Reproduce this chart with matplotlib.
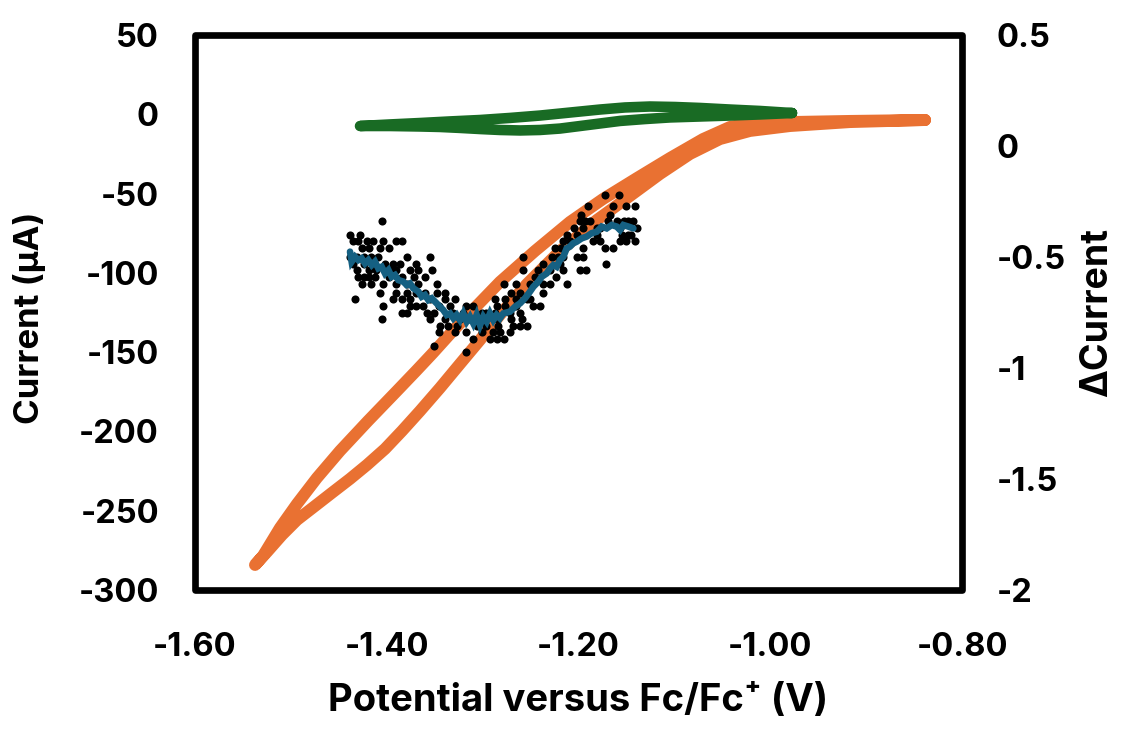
import matplotlib
matplotlib.use("Agg")
import matplotlib.pyplot as plt
from matplotlib.patches import Rectangle

plt.rcParams['font.family'] = ['Inter', 'DejaVu Sans']
plt.rcParams['font.weight'] = 'bold'

# ---------------- data ----------------
# Orange CV (left axis, µA): sweep from -0.84 V to -1.54 V (fwd) and back (rev)
orange_fwd_v = [-0.8386, -0.9168, -0.9794, -1.0211, -1.0524, -1.0837, -1.1150, -1.1463, -1.1807,
                -1.2193, -1.2537, -1.2819, -1.3027, -1.3236, -1.3445, -1.3653, -1.3841, -1.4018,
                -1.4206, -1.4383, -1.4561, -1.4748, -1.4936, -1.5093, -1.5249, -1.5374]
orange_fwd_i = [-3.6, -4.9, -7.4, -10.5, -15.6, -25.0, -37.6, -51.5, -66.6,
                -86.2, -107.0, -126.5, -142.3, -157.4, -172.6, -187.1, -199.7, -211.0,
                -221.1, -229.9, -238.2, -247.0, -255.8, -265.3, -276.0, -284.2]
orange_rev_v = [-1.5374, -1.5291, -1.5113, -1.4936, -1.4728, -1.4488, -1.4196, -1.3904, -1.3695,
                -1.3518, -1.3330, -1.3163, -1.2819, -1.2454, -1.2089, -1.1744, -1.1390, -1.1046,
                -1.0701, -1.0420, -1.0211, -0.9794, -0.9168, -0.8386]
orange_rev_i = [-284.2, -278.5, -260.8, -245.7, -229.3, -212.3, -193.4, -175.1, -161.9,
                -150.5, -137.9, -127.2, -105.7, -86.2, -67.9, -53.4, -40.2, -27.6,
                -15.6, -8.0, -5.5, -4.9, -4.2, -3.6]

# Green CV (left axis, µA)
green_fwd_v = [-0.9773, -1.0107, -1.0420, -1.0733, -1.1046, -1.1306, -1.1567, -1.1776, -1.1984,
               -1.2193, -1.2402, -1.2610, -1.2819, -1.3027, -1.3236, -1.3445, -1.3653, -1.3966,
               -1.4279]
green_fwd_i = [0.8, -0.1, -0.8, -1.4, -2.0, -3.0, -4.2, -5.8, -7.4,
               -9.0, -9.9, -10.2, -9.9, -9.3, -8.6, -8.0, -7.7, -7.4, -7.4]
green_rev_v = [-1.4279, -1.3966, -1.3653, -1.3340, -1.3027, -1.2714, -1.2402, -1.2089, -1.1776,
               -1.1515, -1.1254, -1.0993, -1.0733, -1.0420, -1.0107, -0.9773]
green_rev_i = [-7.4, -6.4, -5.5, -4.5, -3.6, -2.3, -0.8, 1.1, 3.0,
               4.3, 4.9, 4.6, 4.0, 3.0, 2.1, 0.8]

# ΔCurrent scatter (right axis): potentials grouped by ΔCurrent level
scatter_rows = {
    -0.22: [-1.172, -1.158],
    -0.27: [-1.190, -1.164, -1.150, -1.141],
    -0.31: [-1.197, -1.167],
    -0.34: [-1.405, -1.198, -1.193, -1.188, -1.169, -1.160, -1.153, -1.148, -1.143],
    -0.37: [-1.205, -1.195, -1.181, -1.178, -1.157, -1.139],
    -0.40: [-1.438, -1.428, -1.212, -1.202, -1.181, -1.155, -1.148, -1.145],
    -0.43: [-1.435, -1.430, -1.421, -1.414, -1.404, -1.390, -1.384, -1.216, -1.209, -1.185,
            -1.178, -1.157, -1.150, -1.141],
    -0.46: [-1.426, -1.418, -1.407, -1.398, -1.225, -1.218, -1.195, -1.172, -1.164],
    -0.50: [-1.438, -1.431, -1.424, -1.416, -1.409, -1.379, -1.355, -1.258, -1.228, -1.221,
            -1.216, -1.202, -1.195],
    -0.53: [-1.435, -1.424, -1.414, -1.402, -1.393, -1.386, -1.369, -1.237, -1.219, -1.171],
    -0.56: [-1.431, -1.418, -1.411, -1.397, -1.390, -1.376, -1.367, -1.353, -1.258, -1.242,
            -1.230, -1.216, -1.198, -1.192],
    -0.59: [-1.430, -1.424, -1.419, -1.412, -1.398, -1.384, -1.372, -1.360, -1.245, -1.223],
    -0.62: [-1.426, -1.416, -1.404, -1.390, -1.379, -1.367, -1.348, -1.278, -1.265, -1.251,
            -1.237, -1.230, -1.212],
    -0.66: [-1.407, -1.390, -1.379, -1.369, -1.360, -1.348, -1.339, -1.270, -1.261, -1.237],
    -0.69: [-1.433, -1.393, -1.384, -1.376, -1.355, -1.339, -1.329, -1.287, -1.277, -1.265,
            -1.254, -1.251],
    -0.72: [-1.404, -1.376, -1.369, -1.362, -1.346, -1.334, -1.317, -1.310, -1.285, -1.277,
            -1.265, -1.247, -1.240],
    -0.75: [-1.384, -1.379, -1.358, -1.351, -1.331, -1.320, -1.301, -1.296, -1.287, -1.271,
            -1.261],
    -0.78: [-1.405, -1.355, -1.339, -1.324, -1.313, -1.299, -1.285, -1.270, -1.259],
    -0.81: [-1.344, -1.336, -1.327, -1.306, -1.296, -1.284, -1.268, -1.261, -1.254],
    -0.84: [-1.346, -1.329, -1.317, -1.301, -1.289, -1.282, -1.271],
    -0.87: [-1.310, -1.292, -1.285, -1.278],
    -0.90: [-1.351],
    -0.93: [-1.317],
}

# Smoothed ΔCurrent (right axis)
smooth_v = [-1.4383, -1.4366, -1.4331, -1.4296, -1.4262, -1.4227, -1.4192, -1.4157, -1.4123,
            -1.4088, -1.4053, -1.4018, -1.3983, -1.3949, -1.3914, -1.3879, -1.3827, -1.3792,
            -1.3757, -1.3723, -1.3670, -1.3636, -1.3601, -1.3566, -1.3531, -1.3497, -1.3445,
            -1.3410, -1.3375, -1.3340, -1.3305, -1.3271, -1.3236, -1.3201, -1.3166, -1.3132,
            -1.3097, -1.3062, -1.3027, -1.2993, -1.2958, -1.2923, -1.2888, -1.2854, -1.2819,
            -1.2784, -1.2715, -1.2662, -1.2610, -1.2558, -1.2506, -1.2471, -1.2419, -1.2384,
            -1.2332, -1.2297, -1.2262, -1.2228, -1.2193, -1.2158, -1.2123, -1.2089, -1.2054,
            -1.2019, -1.1967, -1.1915, -1.1863, -1.1810, -1.1758, -1.1706, -1.1654, -1.1602,
            -1.1567, -1.1532, -1.1480, -1.1428]
smooth_d = [-0.476, -0.521, -0.499, -0.514, -0.506, -0.529, -0.514, -0.536, -0.521,
            -0.551, -0.544, -0.574, -0.559, -0.589, -0.581, -0.604, -0.611, -0.626,
            -0.619, -0.641, -0.656, -0.679, -0.671, -0.694, -0.686, -0.701, -0.724,
            -0.739, -0.761, -0.754, -0.776, -0.761, -0.784, -0.754, -0.791, -0.769,
            -0.799, -0.761, -0.806, -0.769, -0.791, -0.754, -0.784, -0.761, -0.776,
            -0.754, -0.746, -0.724, -0.709, -0.686, -0.656, -0.634, -0.611, -0.589,
            -0.574, -0.551, -0.536, -0.544, -0.513, -0.498, -0.461, -0.453, -0.438,
            -0.431, -0.416, -0.408, -0.393, -0.386, -0.363, -0.371, -0.356, -0.363,
            -0.378, -0.356, -0.363, -0.371]

x_ticks = [-1.60, -1.40, -1.20, -1.00, -0.80]
y_left_ticks = [50, 0, -50, -100, -150, -200, -250, -300]
y_right_ticks = [0.5, 0, -0.5, -1, -1.5, -2]
y_right_labels = ['0.5', '0', '-0.5', '-1', '-1.5', '-2']

# colours
C_ORANGE = '#E97132'
C_GREEN = '#196B24'
C_BLUE = '#156082'

# ---------------- figure ----------------
fig = plt.figure(figsize=(11.27, 7.40), dpi=100)
ax = fig.add_axes([195 / 1127, 1 - 590 / 740, (962 - 195) / 1127, (590 - 35) / 740])

ax.plot(orange_fwd_v + orange_rev_v, orange_fwd_i + orange_rev_i, color=C_ORANGE, lw=8.6,
        solid_capstyle='round', solid_joinstyle='round', zorder=2)
ax.plot(green_fwd_v + green_rev_v, green_fwd_i + green_rev_i, color=C_GREEN, lw=7.6,
        solid_capstyle='round', solid_joinstyle='round', zorder=3)

ax.set_xlim(-1.6, -0.8)
ax.set_ylim(-300, 50)
ax.set_xticks(x_ticks)
ax.set_xticklabels([f'{t:.2f}' for t in x_ticks])
ax.set_yticks(y_left_ticks)
ax.set_yticklabels([str(t) for t in y_left_ticks])

ax2 = ax.twinx()
sv, sd = [], []
for lvl, vs in scatter_rows.items():
    for v in vs:
        sv.append(v)
        sd.append(lvl)
ax2.scatter(sv, sd, s=34, color='black', linewidths=0, zorder=2)
ax2.plot(smooth_v, smooth_d, color=C_BLUE, lw=4.8, solid_joinstyle='miter',
         solid_capstyle='round', zorder=3)
ax2.set_ylim(-2, 0.5)
ax2.set_yticks(y_right_ticks)
ax2.set_yticklabels(y_right_labels)

for a in (ax, ax2):
    for s in a.spines.values():
        s.set_visible(False)
    a.tick_params(length=0, labelsize=23.5)
ax.tick_params(axis='y', pad=26)
ax.tick_params(axis='x', pad=30)
ax2.tick_params(axis='y', pad=25)

ax2.add_patch(Rectangle((0, 0), 1, 1, transform=ax2.transAxes, fill=False, lw=4.8,
                        edgecolor='black', joinstyle='round', clip_on=False, zorder=10))

ax.set_xlabel('Potential versus Fc/Fc⁺ (V)', fontsize=27.5, fontweight='bold', va='center')
ax.xaxis.set_label_coords(0.5, -(701 - 590) / 555)
ax.set_ylabel('Current (µA)', fontsize=25, fontweight='bold', va='center')
ax.yaxis.set_label_coords(-(195 - 30) / 767, 0.49)
ax2.set_ylabel('ΔCurrent', fontsize=27, fontweight='bold', va='center', rotation=90)
ax2.yaxis.set_label_coords((1097 - 195) / 767, 0.5)

fig.savefig('out.png', dpi=100)
